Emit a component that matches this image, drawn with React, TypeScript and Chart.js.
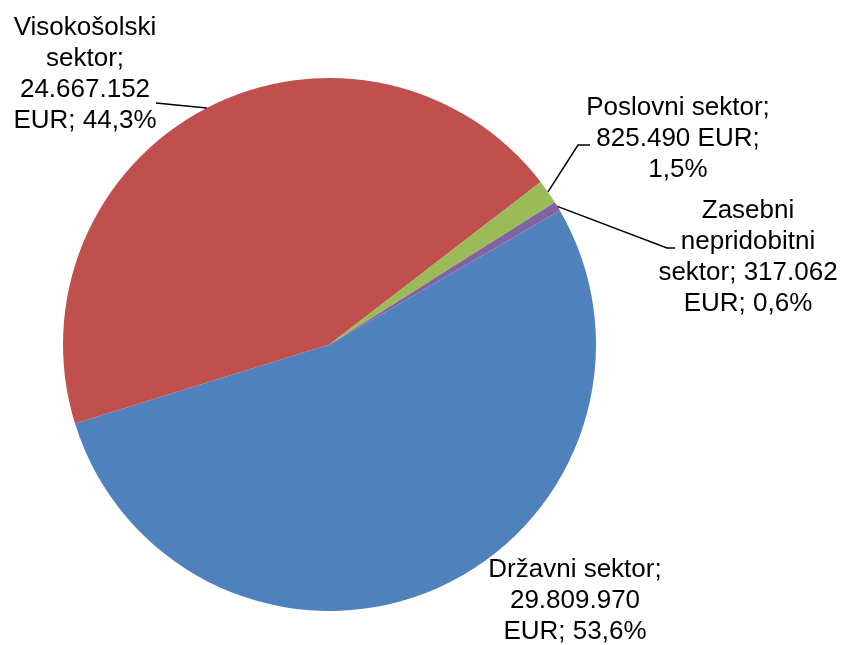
import React, { useEffect, useRef } from "react";
import { Chart, registerables } from "chart.js";

Chart.register(...registerables);

const categories = ["Državni sektor", "Visokošolski sektor", "Poslovni sektor", "Zasebni nepridobitni sektor"];
const values = [29809970, 24667152, 825490, 317062];
const colors = ["#4F81BD", "#C0504D", "#9BBB59", "#8064A2"];
const labelLines = [
  ["Državni sektor;", "29.809.970", "EUR; 53,6%"],
  ["Visokošolski", "sektor;", "24.667.152", "EUR; 44,3%"],
  ["Poslovni sektor;", "825.490 EUR;", "1,5%"],
  ["Zasebni", "nepridobitni", "sektor; 317.062", "EUR; 0,6%"],
];

// label layout (centre x, first baseline y), leader line anchor points
const labelPos = [
  { x: 575, y: 577 },
  { x: 85, y: 35 },
  { x: 678, y: 115 },
  { x: 748, y: 218 },
];
const leaders: ({ x: number; y: number }[] | null)[] = [
  null,
  [{ x: 156, y: 103 }],
  [{ x: 590, y: 145 }, { x: 578, y: 145 }],
  [{ x: 675, y: 248 }, { x: 667, y: 248 }],
];

const FONT = '26px "Liberation Sans", Arial, sans-serif';
const LINE_H = 31;

const labelPlugin = {
  id: "pieLabels",
  afterDatasetsDraw(chart: any) {
    const ctx = chart.ctx;
    const meta = chart.getDatasetMeta(0);
    ctx.save();
    ctx.strokeStyle = "#000";
    ctx.lineWidth = 1.5;
    meta.data.forEach((arc: any, i: number) => {
      const p = arc.getProps(["x", "y", "startAngle", "endAngle", "outerRadius"], true);
      const mid = (p.startAngle + p.endAngle) / 2;
      const ex = p.x + Math.cos(mid) * p.outerRadius;
      const ey = p.y + Math.sin(mid) * p.outerRadius;
      const pts = leaders[i];
      if (pts) {
        ctx.beginPath();
        ctx.moveTo(pts[0].x, pts[0].y);
        for (let k = 1; k < pts.length; k++) ctx.lineTo(pts[k].x, pts[k].y);
        ctx.lineTo(ex, ey);
        ctx.stroke();
      }
    });
    ctx.fillStyle = "#000";
    ctx.font = FONT;
    ctx.textAlign = "center";
    ctx.textBaseline = "alphabetic";
    labelLines.forEach((lines, i) => {
      lines.forEach((t, j) => {
        ctx.fillText(t, labelPos[i].x, labelPos[i].y + j * LINE_H);
      });
    });
    ctx.restore();
  },
};

export default function App() {
  const ref = useRef<HTMLCanvasElement>(null);
  useEffect(() => {
    if (!ref.current) return;
    const chart = new Chart(ref.current, {
      type: "pie",
      data: {
        labels: categories,
        datasets: [
          {
            data: values,
            backgroundColor: colors,
            borderWidth: 0,
          },
        ],
      },
      options: {
        animation: false,
        responsive: false,
        rotation: 59.8,
        layout: { padding: { left: 63, right: 247, top: 78, bottom: 34 } },
        plugins: {
          legend: { display: false },
          tooltip: { enabled: false },
        },
      },
      plugins: [labelPlugin],
    });
    return () => chart.destroy();
  }, []);
  return (
    <div style={{ position: "fixed", left: 0, top: 0, width: 843, height: 645, background: "#fff" }}>
      <canvas ref={ref} width={843} height={645} style={{ width: 843, height: 645 }} />
    </div>
  );
}
